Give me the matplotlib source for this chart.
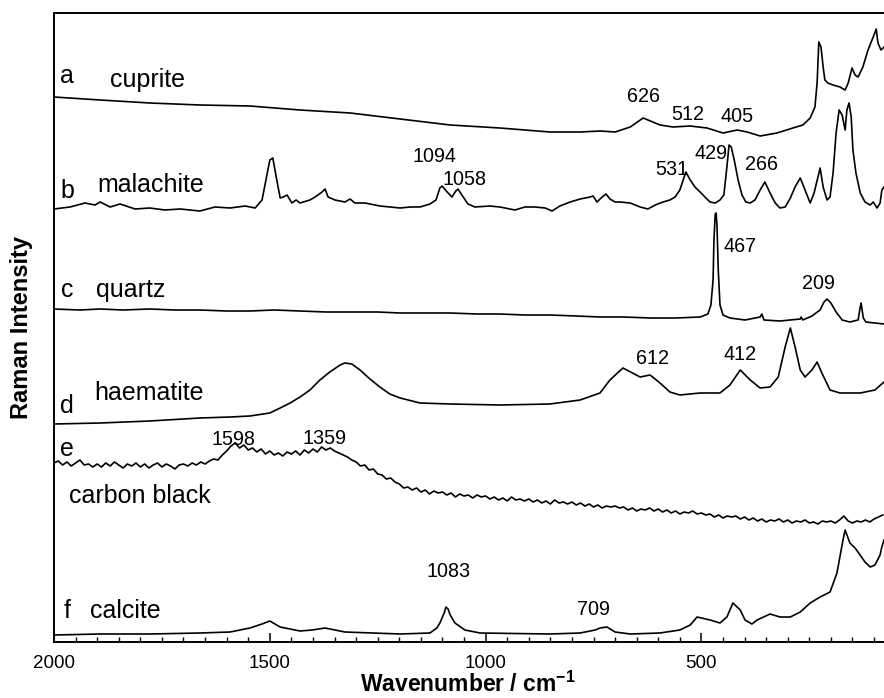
import matplotlib
matplotlib.use("Agg")
import matplotlib.pyplot as plt
from matplotlib.ticker import MultipleLocator

plt.rcParams['font.family'] = ['Liberation Sans', 'DejaVu Sans']
plt.rcParams['mathtext.fontset'] = 'custom'
plt.rcParams['mathtext.rm'] = 'Liberation Sans'
plt.rcParams['mathtext.bf'] = 'Liberation Sans:bold'

# ---------------- data (wavenumber in cm-1, intensity in arbitrary units) ----------------
names = ["cuprite", "malachite", "quartz", "haematite", "carbon black", "calcite"]
letters = ["a", "b", "c", "d", "e", "f"]
offsets = [507, 432, 317, 217, 117, 6]

a_wn = [2000,1893,1778,1662,1546,1430,1314,1198,1082,967,851,781,735,700,665,635,596,566,526,487,
        450,417,394,364,325,288,265,248,237,232,228,223,218,214,207,195,179,167,160,151,
        144,137,126,114,102,95,91,84,77]
a_int = [38,35,32,30,29,25,22,16,10,7,3,3,4,3,8,17,10,8,9,7,
         2,5,3,-1,2,7,10,17,28,52,93,88,68,55,52,50,48,45,52,67,
         60,58,68,85,98,106,92,85,88]

b_wn = [2000,1963,1928,1905,1893,1870,1847,1812,1778,1743,1708,1662,1627,1592,1557,1534,1518,1509,1500,1493,
        1486,1476,1469,1460,1449,1439,1430,1407,1395,1379,1372,1365,1349,1326,1314,1303,1279,1245,1222,1198,
        1175,1152,1129,1115,1106,1101,1089,1078,1069,1064,1055,1041,1025,990,967,932,909,886,862,846,
        828,804,781,758,751,742,730,721,712,700,689,665,642,624,607,589,573,561,550,536,
        526,515,503,492,480,468,457,448,441,436,431,424,415,406,397,387,376,364,353,341,
        329,318,306,294,283,271,260,248,239,230,225,218,209,202,195,188,181,174,167,163,
        158,153,149,142,132,121,109,102,93,86,82,77]
b_int = [1,3,7,5,8,3,6,1,2,0,1,-1,3,2,4,2,10,30,50,52,
         35,12,13,15,7,10,7,10,13,18,21,13,10,8,11,7,7,4,3,2,
         3,3,6,10,22,24,18,13,19,21,15,6,3,4,3,0,3,3,2,-1,
         4,8,11,13,14,8,13,16,11,8,8,7,3,1,5,8,10,13,20,38,
         30,23,18,13,8,7,10,15,43,65,63,50,30,15,8,7,10,20,28,17,
         7,2,3,12,23,32,20,7,17,33,42,23,10,13,37,77,100,95,80,100,
         107,93,60,37,17,8,5,8,2,7,20,23]

c_wn = [2000,1940,1893,1840,1778,1720,1662,1600,1546,1490,1430,1370,1314,1250,1198,1140,1082,1020,967,910,
        851,790,735,680,619,560,503,485,478,473,471,468,466,464,461,457,450,434,399,364,
        360,355,318,271,269,265,244,225,216,209,200,188,174,156,137,132,130,125,119,77]
c_int = [16,15,16,15,16,15,15,14,14,15,14,13,13,13,12,12,12,11,11,10,
         10,9,8,8,7,7,8,11,20,45,85,111,112,100,55,20,10,7,5,8,
         11,5,4,6,8,5,9,15,23,26,22,13,5,3,5,18,22,7,3,1]

d_wn = [2000,1893,1778,1662,1592,1546,1500,1476,1453,1430,1407,1384,1361,1337,1326,1310,1291,1268,1245,1222,
        1198,1152,1082,967,851,781,735,712,682,642,619,596,573,550,503,457,434,410,387,364,
        341,322,306,294,283,271,260,244,232,221,202,179,132,98,77]
d_int = [1,2,4,7,8,9,12,17,22,28,35,45,53,60,62,61,55,46,38,31,
         27,22,21,20,21,25,32,45,57,48,50,42,33,30,32,32,40,55,45,37,
         38,48,78,97,78,55,48,55,63,52,35,32,32,35,43]

# carbon black: read every 10 cm-1 from 2000 down to 80
e_wn = list(range(2000, 79, -10))
e_int = [62,64,60,63,59,62,65,60,61,58,
         61,58,62,59,63,60,57,61,59,62,
         58,61,57,60,62,58,61,59,56,60,
         61,59,62,60,63,61,64,66,65,70,
         74,79,82,77,80,75,77,73,76,71,
         74,70,72,69,73,71,74,70,75,72,
         76,73,78,75,77,74,72,70,68,65,
         63,59,60,55,56,51,50,46,47,43,
         41,37,38,35,37,33,35,31,34,32,
         33,30,32,28,31,29,30,27,30,28,
         29,26,28,25,27,24,28,25,26,24,
         26,23,25,22,24,21,25,22,23,21,
         23,20,22,19,21,18,20,17,19,18,
         19,17,18,15,17,14,16,15,17,14,
         16,13,15,12,14,11,13,12,14,11,
         12,10,11,8,10,7,9,8,9,6,
         8,5,7,4,6,3,5,4,6,3,
         5,2,4,3,5,2,3,1,4,3,
         4,2,5,9,4,2,4,3,5,3,
         6,8,10]

f_wn = [2000,1893,1778,1662,1592,1546,1518,1500,1476,1430,1402,1372,1326,1198,1129,1113,1106,1096,1092,1087,
        1082,1071,1048,1013,851,781,746,735,719,700,665,596,550,526,510,480,457,441,427,410,
        399,383,371,341,318,294,271,248,225,202,186,172,167,156,144,121,109,98,86,82,77]
f_int = [1,2,2,3,4,8,12,15,9,5,6,8,4,2,3,8,13,23,29,27,
         21,13,6,3,2,3,6,8,9,4,2,3,6,11,19,16,13,19,33,26,
         16,12,16,22,19,19,24,33,39,44,63,96,106,93,88,74,69,71,81,89,96]

wavenumbers = [a_wn, b_wn, c_wn, d_wn, e_wn, f_wn]
intensities = [a_int, b_int, c_int, d_int, e_int, f_int]

peak_labels = ["626", "512", "405", "1094", "1058", "531", "429", "266", "467", "209",
               "612", "412", "1598", "1359", "1083", "709"]
peak_label_x = [635, 531, 417, 1119, 1048, 568, 478, 360, 410, 230, 614, 410, 1585, 1374, 1087, 751]
peak_label_y = [540, 522, 520, 480, 457, 467, 483, 472, 390, 353, 278, 282, 197, 198, 65, 27]

letter_x = [1970, 1968, 1970, 1970, 1970, 1970]
letter_y = [559, 444, 345, 229, 186, 24]
name_x = [1870, 1900, 1903, 1907, 1965, 1917]
name_y = [555, 450, 345, 242, 139, 24]

xticks = [2000, 1500, 1000, 500]

# ---------------- figure ----------------
W, H = 884, 698
fig = plt.figure(figsize=(W / 100, H / 100), dpi=100)
ax = fig.add_axes([54 / W, (H - 642) / H, (884 - 54) / W, (642 - 13) / H])

for wn, it, off in zip(wavenumbers, intensities, offsets):
    ax.plot(wn, [v + off for v in it], color="black", lw=1.2, solid_joinstyle="round")

ax.set_xlim(2000, 77)
ax.set_ylim(0, 629)

for lab, x, y in zip(peak_labels, peak_label_x, peak_label_y):
    ax.text(x, y, lab, ha="center", va="baseline", fontsize=14.2)

for l, x, y in zip(letters, letter_x, letter_y):
    ax.text(x, y, l, ha="center", va="baseline", fontsize=18)
for n, x, y in zip(names, name_x, name_y):
    ax.text(x, y, n, ha="left", va="baseline", fontsize=18)

ax.set_xticks(xticks)
ax.set_xticklabels([str(t) for t in xticks])
ax.xaxis.set_minor_locator(MultipleLocator(50))
ax.tick_params(axis="x", which="major", direction="in", length=6.5, width=1.1, labelsize=13.5, pad=9)
ax.tick_params(axis="x", which="minor", direction="in", length=3.5, width=1.0)
ax.tick_params(axis="y", left=False, labelleft=False)
ax.xaxis.set_ticks_position("bottom")
for s in ["left", "top", "bottom"]:
    ax.spines[s].set_linewidth(1.4)
ax.spines["right"].set_visible(False)

fig.text(468 / W, 1 - 692 / H, r"Wavenumber / cm$^{\mathbf{-1}}$", ha="center", va="baseline",
         fontsize=16.5, fontweight="bold")
fig.text(22 / W, 1 - 327 / H, "Raman Intensity", rotation=90, ha="center", va="center",
         fontsize=17, fontweight="bold")

fig.savefig("out.png", dpi=100)
